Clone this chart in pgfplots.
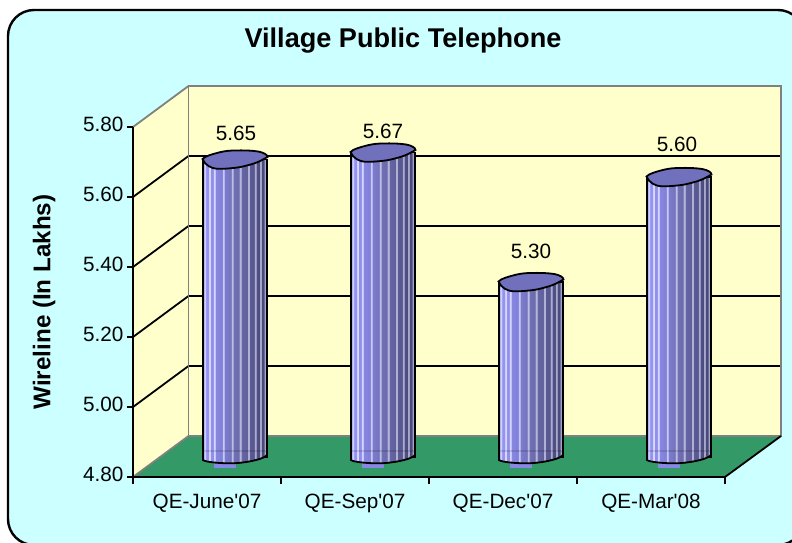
\documentclass[border=0pt]{standalone}
\usepackage{fontspec}
\setmainfont{Liberation Sans}[Ligatures=TeXOff]
\usepackage{pgfplots}
\usepackage{pgfplotstable}
\pgfplotsset{compat=1.18}
\definecolor{bgc}{HTML}{CCFFFF}
\definecolor{wallc}{HTML}{FFFFCC}
\definecolor{floorc}{HTML}{339966}
\definecolor{edgec}{HTML}{808080}
\definecolor{topc}{HTML}{7070BC}
\definecolor{slv}{HTML}{8888E4}
\def\dc#1{\definecolor{c#1}{HTML}{#1}}
\dc{8F8FF0}\dc{9A9AF4}\dc{D0D0FF}\dc{9494F0}\dc{D8D8FF}\dc{9090EC}\dc{D4D4FF}\dc{8888E0}\dc{8080D8}\dc{C8C8F4}\dc{7C7CD0}\dc{7474BC}\dc{BCBCE4}\dc{7070B4}\dc{6A6AAC}\dc{B4B4DC}\dc{6666A4}\dc{60609C}\dc{B0B0D4}\dc{5A5A94}\dc{565690}\dc{ACACD0}\dc{505088}\dc{4C4C80}\dc{A8A8CC}\dc{4A4A7C}\dc{A4A4C8}\dc{484878}
\pgfdeclarehorizontalshading{cyl}{100bp}{%
color(0bp)=(c9A9AF4);
color(25bp)=(c9A9AF4);
color(25.6bp)=(c9A9AF4); color(26bp)=(cD0D0FF); color(27bp)=(cD0D0FF); color(27.4bp)=(c9494F0);
color(29.3bp)=(c9494F0); color(29.7bp)=(cD8D8FF); color(30.8bp)=(cD8D8FF); color(31.2bp)=(c9090EC);
color(32.8bp)=(c9090EC); color(33.2bp)=(cD4D4FF); color(34.3bp)=(cD4D4FF); color(34.7bp)=(c8888E0);
color(39.8bp)=(c8080D8); color(40.2bp)=(cC8C8F4); color(41.3bp)=(cC8C8F4); color(41.7bp)=(c7C7CD0);
color(46.8bp)=(c7474BC); color(47.2bp)=(cBCBCE4); color(48.3bp)=(cBCBCE4); color(48.7bp)=(c7070B4);
color(53bp)=(c6A6AAC); color(53.4bp)=(cB4B4DC); color(54.6bp)=(cB4B4DC); color(55bp)=(c6666A4);
color(59.5bp)=(c60609C); color(59.9bp)=(cB0B0D4); color(61.1bp)=(cB0B0D4); color(61.5bp)=(c5A5A94);
color(64.8bp)=(c565690); color(65.2bp)=(cACACD0); color(66.3bp)=(cACACD0); color(66.7bp)=(c505088);
color(68.8bp)=(c4C4C80); color(69.2bp)=(cA8A8CC); color(70.3bp)=(cA8A8CC); color(70.7bp)=(c4A4A7C);
color(72.5bp)=(c4A4A7C); color(72.9bp)=(cA4A4C8); color(74bp)=(cA4A4C8); color(74.4bp)=(c484878);
color(75bp)=(c484878); color(100bp)=(c484878)}
\pgfdeclareplotmark{cyltop}{%
  \path[fill=topc,draw=black,line width=1.8pt] (-32.5pt,0.5pt) .. controls (-30pt,3.5pt) and (-22pt,5.5pt) .. (-15pt,7.3pt) .. controls (-10pt,8.5pt) and (-5pt,9pt) .. (0pt,9pt) .. controls (8pt,9.3pt) and (18pt,9pt) .. (24pt,7.8pt) .. controls (28pt,7pt) and (32.5pt,5pt) .. (32.5pt,2.5pt) .. controls (28pt,0pt) and (24pt,-2.5pt) .. (18pt,-4.3pt) .. controls (12pt,-6pt) and (6pt,-7.8pt) .. (0pt,-8.3pt) .. controls (-6pt,-9pt) and (-13pt,-9.5pt) .. (-18pt,-9.3pt) .. controls (-23pt,-9pt) and (-30pt,-6pt) .. (-32.5pt,0.5pt) -- cycle;}
\pgfdeclareplotmark{cylbase}{%
  \fill[slv] (-21pt,-6pt) rectangle (0pt,-9.7pt);
  \shade[shading=cyl] (-32pt,6pt) -- (-32pt,-3pt) .. controls (-30pt,-5pt) and (-15pt,-6.5pt) .. (-2pt,-6.3pt) .. controls (8pt,-6pt) and (28pt,-3pt) .. (32pt,2pt) -- (32pt,6pt) -- cycle;
  \draw[black,line width=1.8pt] (-32pt,6pt) -- (-32pt,-3pt) .. controls (-30pt,-5pt) and (-15pt,-6.5pt) .. (-2pt,-6.3pt) .. controls (8pt,-6pt) and (28pt,-3pt) .. (32pt,2pt) -- (32pt,6pt);}
\pgfplotstableread{
x y
0 5.65
1 5.67
2 5.30
3 5.60
}\vpt
\pgfplotstableread{
x y
0 4.80
1 4.80
2 4.80
3 4.80
}\vptbase
\begin{document}
\begin{tikzpicture}
\path[use as bounding box] (0pt,0pt) rectangle (792pt,542pt);
\begin{scope}[x=1pt,y=-1pt,yshift=542pt]
\clip (0,0) rectangle (792,542);
\draw[fill=bgc,draw=black,line width=2.4pt,rounded corners=26pt] (8,10) rectangle (804,545);
% walls
\fill[wallc] (133,477) -- (188.5,436) -- (188.5,86) -- (133,127) -- cycle;
\fill[wallc] (188.5,86) rectangle (781,436);
\fill[floorc] (133,477) -- (725,477) -- (781,436) -- (188.5,436) -- cycle;
\foreach \yy/\zz in {156/197,226/267,296/337,366/407}{
  \draw[black,line width=1.8pt] (133,\zz) -- (188.5,\yy) -- (781,\yy);
}
\draw[edgec,line width=1.8pt,line join=miter] (133,127) -- (188.5,86) -- (781,86) -- (781,436) -- (188.5,436) -- (133,477);
\draw[edgec,line width=1.8pt] (188.5,86) -- (188.5,436);
\draw[black,line width=1.8pt] (725,477) -- (781,436);
\end{scope}
\begin{axis}[
  at={(133pt,65pt)},anchor=south west,
  width=592pt,height=350pt,scale only axis,
  xmin=-0.5,xmax=3.5,ymin=4.8,ymax=5.8,
  clip=false,
  axis x line*=bottom,axis y line*=left,
  axis line style={black,line width=1.8pt,-},
  xtick={0,1,2,3},
  xticklabels={QE-June'07,QE-Sep'07,QE-Dec'07,QE-Mar'08},
  minor xtick={-0.5,0.5,1.5,2.5,3.5},
  ytick={4.8,5.0,5.2,5.4,5.6,5.8},
  tick align=outside,
  major tick length=6pt,minor tick length=7pt,
  major x tick style={draw=none},
  minor x tick style={black,line width=1.5pt},
  y tick style={black,line width=1.5pt},
  tick label style={font=\fontsize{20.7}{22}\selectfont},
  x tick label style={yshift=-7.5pt},
  y tick label style={yshift=3pt},
  /pgf/number format/assume math mode=true,
  /pgf/number format/fixed,/pgf/number format/fixed zerofill,/pgf/number format/precision=2,
  title={Village Public Telephone},
  title style={at={(rel axis cs:0.456,1.231)},anchor=center,font=\fontsize{27.1}{29}\bfseries},
  ylabel={Wireline (In Lakhs)},
  ylabel style={at={(rel axis cs:-0.1503,0.5)},anchor=center,font=\fontsize{24.2}{26}\bfseries},
  ybar,bar width=64pt,
]
\addplot[ybar,bar shift=0pt,xshift=28pt,yshift=20pt,draw=black,line width=1.8pt,shading=cyl] coordinates {(0,5.65)};
\addplot[ybar,bar shift=0pt,xshift=28pt,yshift=20pt,draw=black,line width=1.8pt,shading=cyl] coordinates {(1,5.67)};
\addplot[ybar,bar shift=0pt,xshift=28pt,yshift=20pt,draw=black,line width=1.8pt,shading=cyl] coordinates {(2,5.30)};
\addplot[ybar,bar shift=0pt,xshift=28pt,yshift=20pt,draw=black,line width=1.8pt,shading=cyl] coordinates {(3,5.60)};
\addplot[only marks,xshift=28pt,yshift=20pt,mark=cylbase] table[x=x,y=y] {\vptbase};
\addplot[only marks,xshift=28pt,yshift=20pt,mark=cyltop] table[x=x,y=y] {\vpt};
\node[font=\fontsize{20.7}{22}\selectfont] at (axis cs:0,5.65) [xshift=29pt,yshift=46.5pt] {5.65};
\node[font=\fontsize{20.7}{22}\selectfont] at (axis cs:1,5.67) [xshift=28pt,yshift=41.5pt] {5.67};
\node[font=\fontsize{20.7}{22}\selectfont] at (axis cs:2,5.30) [xshift=28pt,yshift=51pt] {5.30};
\node[font=\fontsize{20.7}{22}\selectfont] at (axis cs:3,5.60) [xshift=26pt,yshift=53pt] {5.60};
\end{axis}
\end{tikzpicture}
\end{document}
